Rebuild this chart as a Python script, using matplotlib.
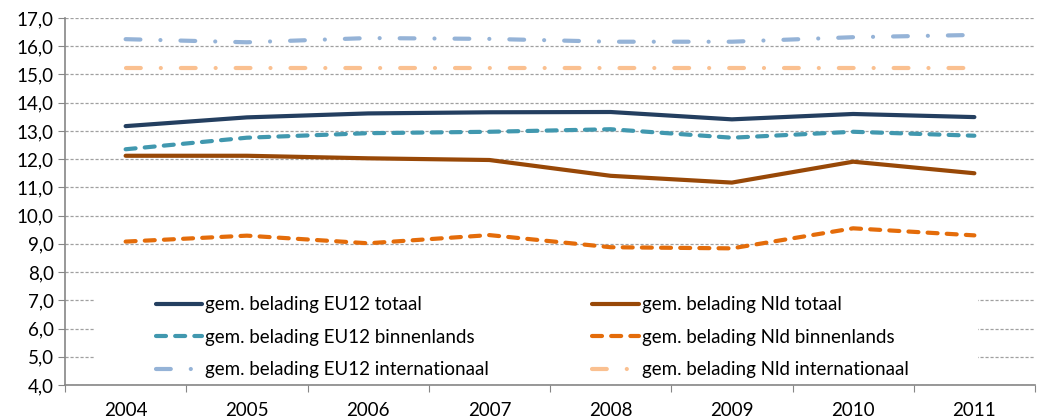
import matplotlib
matplotlib.use("Agg")
import matplotlib.pyplot as plt
from matplotlib.patches import Rectangle
from matplotlib.ticker import FuncFormatter

plt.rcParams['font.family'] = ['Lato', 'DejaVu Sans']

years = ["2004", "2005", "2006", "2007", "2008", "2009", "2010", "2011"]
eu12_totaal = [13.17, 13.48, 13.62, 13.66, 13.67, 13.41, 13.60, 13.49]
eu12_binnen = [12.35, 12.76, 12.92, 12.97, 13.06, 12.76, 12.97, 12.83]
eu12_intern = [16.25, 16.14, 16.29, 16.26, 16.16, 16.16, 16.32, 16.40]
nld_totaal = [12.12, 12.12, 12.03, 11.97, 11.41, 11.17, 11.91, 11.50]
nld_binnen = [9.08, 9.29, 9.02, 9.31, 8.88, 8.84, 9.55, 9.30]
nld_intern = [15.22, 15.22, 15.22, 15.22, 15.22, 15.22, 15.22, 15.22]
labels = ["gem. belading EU12 totaal", "gem. belading EU12 binnenlands",
          "gem. belading EU12 internationaal", "gem. belading Nld totaal",
          "gem. belading Nld binnenlands", "gem. belading Nld internationaal"]

W, H = 1046, 420
fig = plt.figure(figsize=(W / 100, H / 100), dpi=100)
ax = fig.add_axes([65 / W, 35 / H, 970 / W, 367 / H])

x = list(range(len(years)))
lw = 3.0
dash = (2.4, 2.2)
dashdot = (3.55, 4.8, 0.01, 4.8)

series = [
    (eu12_totaal, "#243F60", None),
    (eu12_binnen, "#4198AF", dash),
    (eu12_intern, "#95B3D7", dashdot),
    (nld_totaal, "#984807", None),
    (nld_binnen, "#E46C0A", dash),
    (nld_intern, "#FAC090", dashdot),
]
handles = []
for (vals, col, ds), lab in zip(series, labels):
    kw = dict(color=col, lw=lw, solid_capstyle='round', dash_capstyle='round', zorder=3)
    if ds is not None:
        (ln,) = ax.plot(x, vals, dashes=ds, label=lab, **kw)
    else:
        (ln,) = ax.plot(x, vals, label=lab, **kw)
    handles.append(ln)

FS = 13.5
ax.set_xlim(-0.5, len(years) - 0.5)
ax.set_ylim(4.0, 17.0)
ax.set_yticks([4 + i for i in range(14)])
ax.yaxis.set_major_formatter(FuncFormatter(lambda v, p: f"{v:.1f}".replace(".", ",")))
ax.set_xticks([i - 0.5 for i in range(len(years) + 1)])
ax.set_xticklabels([])
ax.set_xticks(x, minor=True)
ax.set_xticklabels(years, minor=True)
ax.tick_params(axis='x', which='major', length=5, color='#868686', direction='out')
ax.tick_params(axis='x', which='minor', length=0, pad=12, labelsize=FS)
ax.tick_params(axis='y', length=5, color='#868686', direction='out', labelsize=FS, pad=3)

ax.grid(axis='y', color='#A0A0A0', linestyle=(0, (2.5, 1.5)), linewidth=0.9, zorder=0)
ax.set_axisbelow(True)
for s in ['top', 'right']:
    ax.spines[s].set_visible(False)
for s in ['left', 'bottom']:
    ax.spines[s].set_color('#868686')
    ax.spines[s].set_linewidth(1.2)

ax.add_patch(Rectangle((30 / 970, 0.003), (978 - 95) / 970, 0.267, transform=ax.transAxes,
                       facecolor='white', edgecolor='none', zorder=2))

leg = ax.legend(handles=handles, ncol=2, frameon=False, loc='upper left',
                bbox_to_anchor=(83 / 970, 0.262), fontsize=FS,
                handlelength=2.5, handletextpad=0.15, columnspacing=5.5,
                labelspacing=0.82, borderaxespad=0)
leg.set_zorder(4)

fig.savefig("out.png", dpi=100)
